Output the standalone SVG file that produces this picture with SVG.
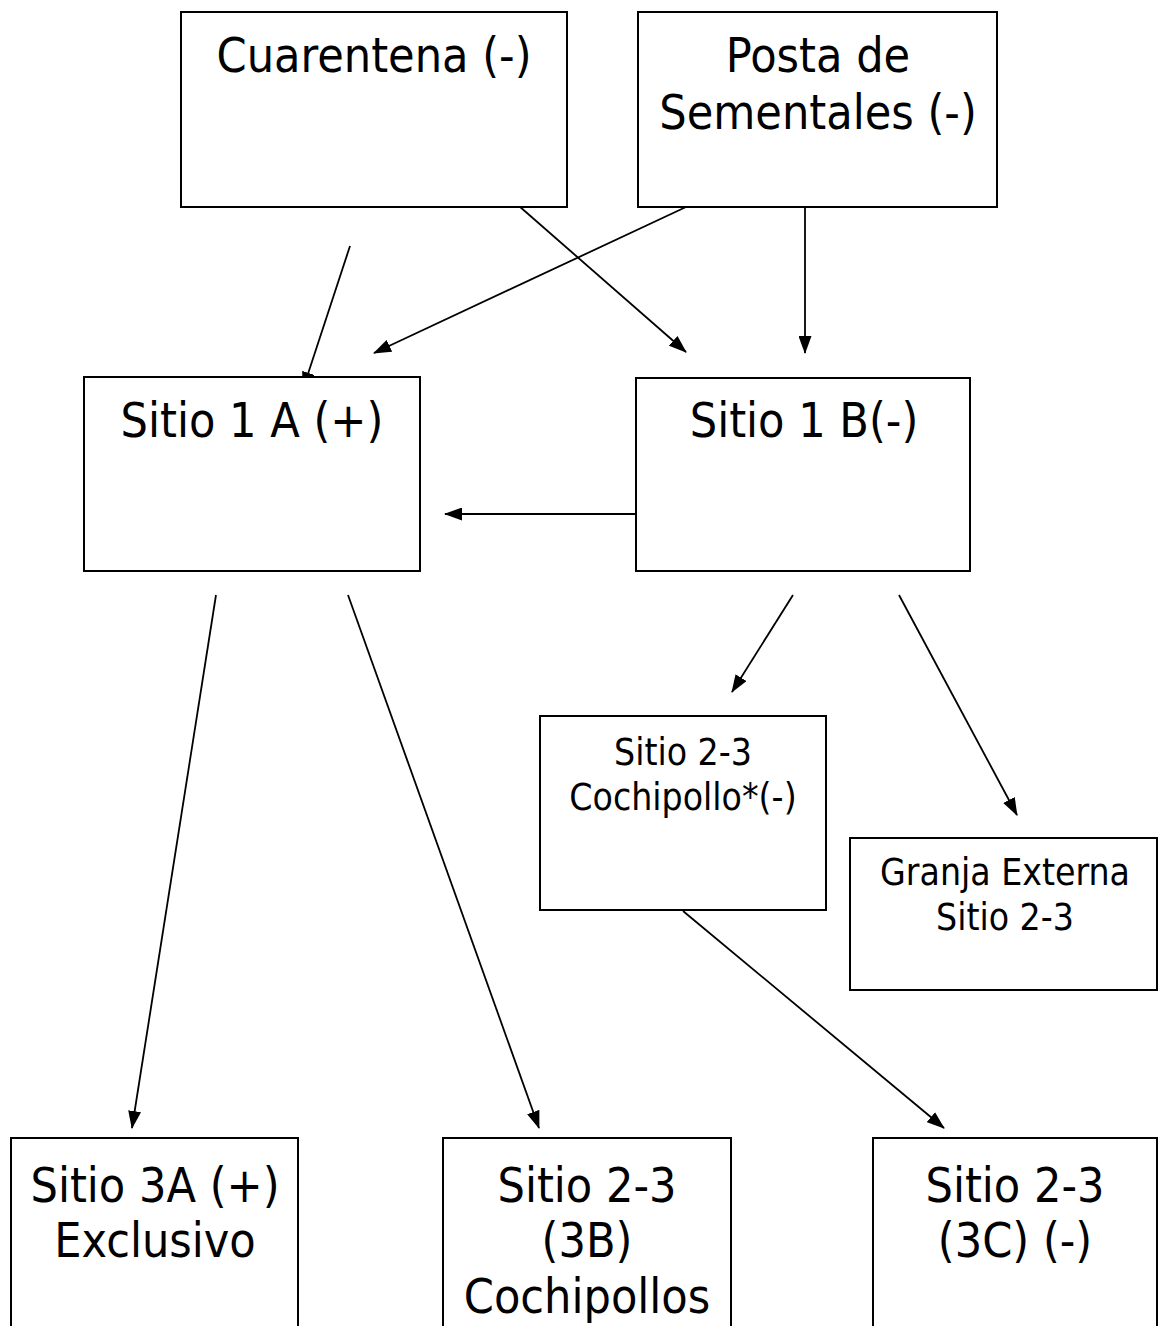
<svg xmlns="http://www.w3.org/2000/svg" width="1159" height="1326" viewBox="0 0 1159 1326">
<style>
.box{fill:#fff;stroke:#000;stroke-width:2}
.t{font-family:"DejaVu Sans Condensed","DejaVu Sans",sans-serif;font-stretch:condensed;fill:#000;text-anchor:middle}
.big{font-size:48px}
.small{font-size:37px}
.c{stroke:#000;stroke-width:1.8;fill:none;marker-end:url(#ah)}
</style>
<defs>
<marker id="ah" viewBox="0 0 18 13" refX="17" refY="6.5" markerWidth="18" markerHeight="13" markerUnits="userSpaceOnUse" orient="auto">
<path d="M0,0 L18,6.5 L0,13 z" fill="#000"/>
</marker>
</defs>
<rect width="1159" height="1326" fill="#fff"/>
<g id="connectors">
<line class="c" x1="350" y1="246" x2="303" y2="389"/>
<line class="c" x1="686" y1="207" x2="374" y2="353"/>
<line class="c" x1="519" y1="206" x2="686" y2="352"/>
<line class="c" x1="805" y1="207" x2="805" y2="353"/>
<line class="c" x1="636" y1="514" x2="445" y2="514"/>
<line class="c" x1="216" y1="595" x2="132" y2="1128"/>
<line class="c" x1="348" y1="595" x2="539" y2="1128"/>
<line class="c" x1="793" y1="595" x2="732" y2="692"/>
<line class="c" x1="899" y1="595" x2="1017" y2="815"/>
<line class="c" x1="683" y1="911" x2="944" y2="1128"/>
</g>
<g id="cuarentena">
<rect class="box" x="181" y="12" width="386" height="195"/>
<text class="t big" x="374" y="72">Cuarentena (-)</text>
</g>
<g id="posta">
<rect class="box" x="638" y="12" width="359" height="195"/>
<text class="t big" x="818" y="72">Posta de</text>
<text class="t big" x="818" y="129">Sementales (-)</text>
</g>
<g id="sitio1a">
<rect class="box" x="84" y="377" width="336" height="194"/>
<text class="t big" x="252" y="437">Sitio 1 A (+)</text>
</g>
<g id="sitio1b">
<rect class="box" x="636" y="378" width="334" height="193"/>
<text class="t big" x="804" y="437">Sitio 1 B(-)</text>
</g>
<g id="cochipollo">
<rect class="box" x="540" y="716" width="286" height="194"/>
<text class="t small" x="683" y="765">Sitio 2-3</text>
<text class="t small" x="683" y="810">Cochipollo*(-)</text>
</g>
<g id="granja">
<rect class="box" x="850" y="838" width="307" height="152"/>
<text class="t small" x="1005" y="885">Granja Externa</text>
<text class="t small" x="1005" y="930">Sitio 2-3</text>
</g>
<g id="sitio3a">
<rect class="box" x="11" y="1138" width="287" height="200"/>
<text class="t big" x="155" y="1202">Sitio 3A (+)</text>
<text class="t big" x="155" y="1257">Exclusivo</text>
</g>
<g id="sitio3b">
<rect class="box" x="443" y="1138" width="288" height="200"/>
<text class="t big" x="587" y="1202">Sitio 2-3</text>
<text class="t big" x="587" y="1257">(3B)</text>
<text class="t big" x="587" y="1313">Cochipollos</text>
</g>
<g id="sitio3c">
<rect class="box" x="873" y="1138" width="284" height="200"/>
<text class="t big" x="1015" y="1202">Sitio 2-3</text>
<text class="t big" x="1015" y="1257">(3C) (-)</text>
</g>
</svg>
